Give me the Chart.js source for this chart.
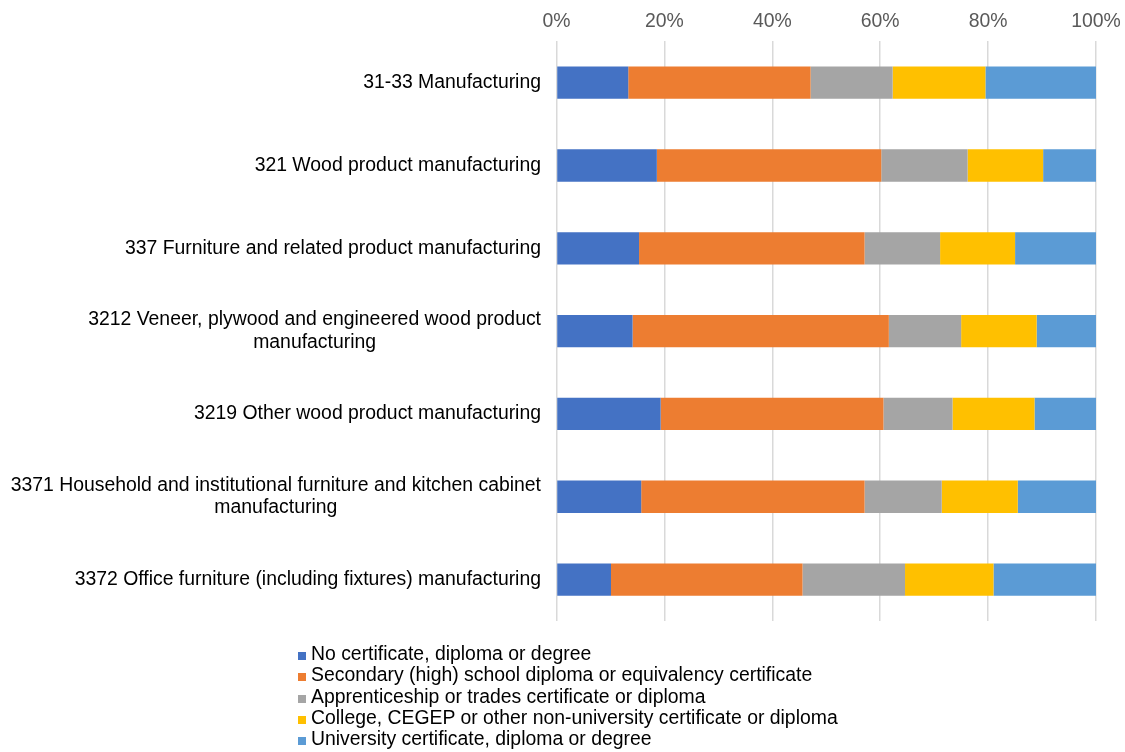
<!DOCTYPE html>
<html>
<head>
<meta charset="utf-8">
<script src="https://cdn.jsdelivr.net/npm/chart.js@4.4.1/dist/chart.umd.min.js"></script>
<style>
  html, body { margin: 0; padding: 0; background: #fff; }
  #wrap { position: relative; width: 1125px; height: 752px; }
  #legend {
    position: absolute; left: 298px; top: 643px;
    font-family: "Liberation Sans", Arial, sans-serif; font-size: 19.4px; color: #000;
  }
  #legend div { height: 21.3px; line-height: 21.3px; white-space: nowrap; }
  #legend span.box { display: inline-block; width: 8px; height: 8px; margin-right: 5px; vertical-align: 0px; }
</style>
</head>
<body>
<div id="wrap">
  <canvas id="eduChart" width="1125" height="752"></canvas>
  <div id="legend"></div>
</div>
<script>
// Industries (top to bottom); arrays wrap onto two lines
const industries = [
  '31-33 Manufacturing',
  '321 Wood product manufacturing',
  '337 Furniture and related product manufacturing',
  ['3212 Veneer, plywood and engineered wood product', 'manufacturing'],
  '3219 Other wood product manufacturing',
  ['3371 Household and institutional furniture and kitchen cabinet', 'manufacturing'],
  '3372 Office furniture (including fixtures) manufacturing'
];

const seriesNames = [
  'No certificate, diploma or degree',
  'Secondary (high) school diploma or equivalency certificate',
  'Apprenticeship or trades certificate or diploma',
  'College, CEGEP or other non-university certificate or diploma',
  'University certificate, diploma or degree'
];

const seriesColors = ['#4472C4', '#ED7D31', '#A5A5A5', '#FFC000', '#5B9BD5'];

// Share of workers (%) by highest certificate
const noCertificate = [13.3, 18.6, 15.3, 14.1, 19.3, 15.7, 10.1];
const secondary     = [33.8, 41.6, 41.8, 47.5, 41.3, 41.4, 35.5];
const apprentice    = [15.2, 16.0, 14.0, 13.4, 12.8, 14.3, 19.0];
const college       = [17.2, 14.0, 13.9, 14.0, 15.2, 14.1, 16.4];
const university    = [20.5,  9.8, 15.0, 11.0, 11.4, 14.5, 19.0];

const xTicks = [0, 20, 40, 60, 80, 100];

const seriesValues = [noCertificate, secondary, apprentice, college, university];

const FONT = '"Liberation Sans", Arial, sans-serif';

// category labels: block right-aligned to the axis, lines centered within the block
const categoryLabels = {
  id: 'categoryLabels',
  afterDraw(chart) {
    const ctx = chart.ctx;
    const yScale = chart.scales.y;
    const right = chart.chartArea.left - 15.5;
    const lineH = 22.5;
    ctx.save();
    ctx.font = '19.4px ' + FONT;
    ctx.fillStyle = '#000';
    ctx.textAlign = 'center';
    ctx.textBaseline = 'middle';
    industries.forEach((label, i) => {
      const lines = Array.isArray(label) ? label : [label];
      const w = Math.max(...lines.map(l => ctx.measureText(l).width));
      const cx = right - w / 2;
      const y0 = yScale.getPixelForValue(i) - (lines.length - 1) * lineH / 2;
      lines.forEach((l, k) => ctx.fillText(l, cx, y0 + k * lineH));
    });
    ctx.restore();
  }
};

const ctx = document.getElementById('eduChart').getContext('2d');

const chart = new Chart(ctx, {
  type: 'bar',
  data: {
    labels: industries,
    datasets: seriesNames.map((name, i) => ({
      label: name,
      data: seriesValues[i],
      backgroundColor: seriesColors[i],
      borderWidth: 0,
      categoryPercentage: 1,
      barPercentage: 0.39
    }))
  },
  options: {
    indexAxis: 'y',
    responsive: false,
    animation: false,
    layout: { padding: { left: 556.5, right: 29, top: 3, bottom: 131 } },
    scales: {
      x: {
        position: 'top',
        stacked: true,
        min: 0,
        max: 100,
        afterBuildTicks(axis) { axis.ticks = xTicks.map(v => ({ value: v })); },
        // the outer tick labels may overhang; layout padding already leaves room
        afterFit(axis) { axis.paddingLeft = 0; axis.paddingRight = 0; },
        grid: { color: '#d9d9d9', lineWidth: 1.5, drawTicks: false },
        border: { display: false },
        ticks: {
          padding: 7.5,
          color: '#595959',
          font: { family: FONT, size: 19.4 },
          callback: v => v + '%'
        }
      },
      y: {
        display: false,
        stacked: true
      }
    },
    plugins: {
      legend: { display: false },
      tooltip: { enabled: false }
    }
  },
  plugins: [categoryLabels]
});

// legend, one entry per row
const legendEl = document.getElementById('legend');
seriesNames.forEach((name, i) => {
  const row = document.createElement('div');
  const box = document.createElement('span');
  box.className = 'box';
  box.style.background = seriesColors[i];
  row.appendChild(box);
  row.appendChild(document.createTextNode(name));
  legendEl.appendChild(row);
});
</script>
</body>
</html>
